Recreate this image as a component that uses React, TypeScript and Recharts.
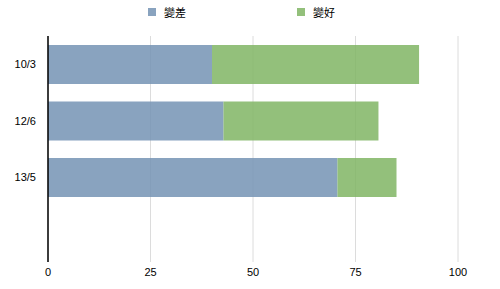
import React from "react";
import { BarChart, Bar, XAxis, YAxis, CartesianGrid } from "recharts";

const categories = ["10/3", "12/6", "13/5", ""];
const worse = [40, 42.8, 70.6, null];
const better = [50.5, 37.8, 14.4, null];
const seriesNames = ["變差", "變好"];
const seriesColors = ["#7493b4", "#80b564"];
const xTicks = [0, 25, 50, 75, 100];

const data = categories.map((c, i) => ({ name: c, worse: worse[i], better: better[i] }));

const tickFont = { fontFamily: "'Liberation Sans', Arial, sans-serif", fontSize: 11, fill: "#000" };

export default function App() {
  return (
    <div style={{ position: "absolute", left: 0, top: 0, width: 500, height: 289, background: "#fff" }}>
      <div
        style={{
          position: "absolute",
          top: 4,
          left: 148,
          display: "flex",
          fontFamily: "'Noto Sans CJK TC', sans-serif",
          fontSize: 11,
          color: "#000",
        }}
      >
        {seriesNames.map((n, i) => (
          <div key={n} style={{ display: "flex", alignItems: "center", marginLeft: i === 0 ? 0 : 111 }}>
            <span
              style={{
                display: "inline-block",
                width: 8,
                height: 8,
                background: seriesColors[i],
                opacity: 0.85,
                marginRight: 8,
              }}
            />
            <span>{n}</span>
          </div>
        ))}
      </div>
      <BarChart
        width={500}
        height={289}
        data={data}
        layout="vertical"
        margin={{ top: 36, right: 42, bottom: 7, left: 0 }}
        barSize={39}
      >
        <CartesianGrid horizontal={false} vertical={true} stroke="#dcdcdc" />
        <XAxis
          type="number"
          domain={[0, 100]}
          ticks={xTicks}
          axisLine={false}
          tickLine={false}
          tick={tickFont}
          tickMargin={0}
          height={20}
          interval={0}
        />
        <YAxis
          type="category"
          dataKey="name"
          width={48}
          axisLine={{ stroke: "#000", strokeWidth: 1.5 }}
          tickLine={false}
          tick={tickFont}
          tickMargin={6}
          interval={0}
        />
        <Bar dataKey="worse" stackId="a" fill={seriesColors[0]} fillOpacity={0.85} isAnimationActive={false} />
        <Bar dataKey="better" stackId="a" fill={seriesColors[1]} fillOpacity={0.85} isAnimationActive={false} />
      </BarChart>
    </div>
  );
}
